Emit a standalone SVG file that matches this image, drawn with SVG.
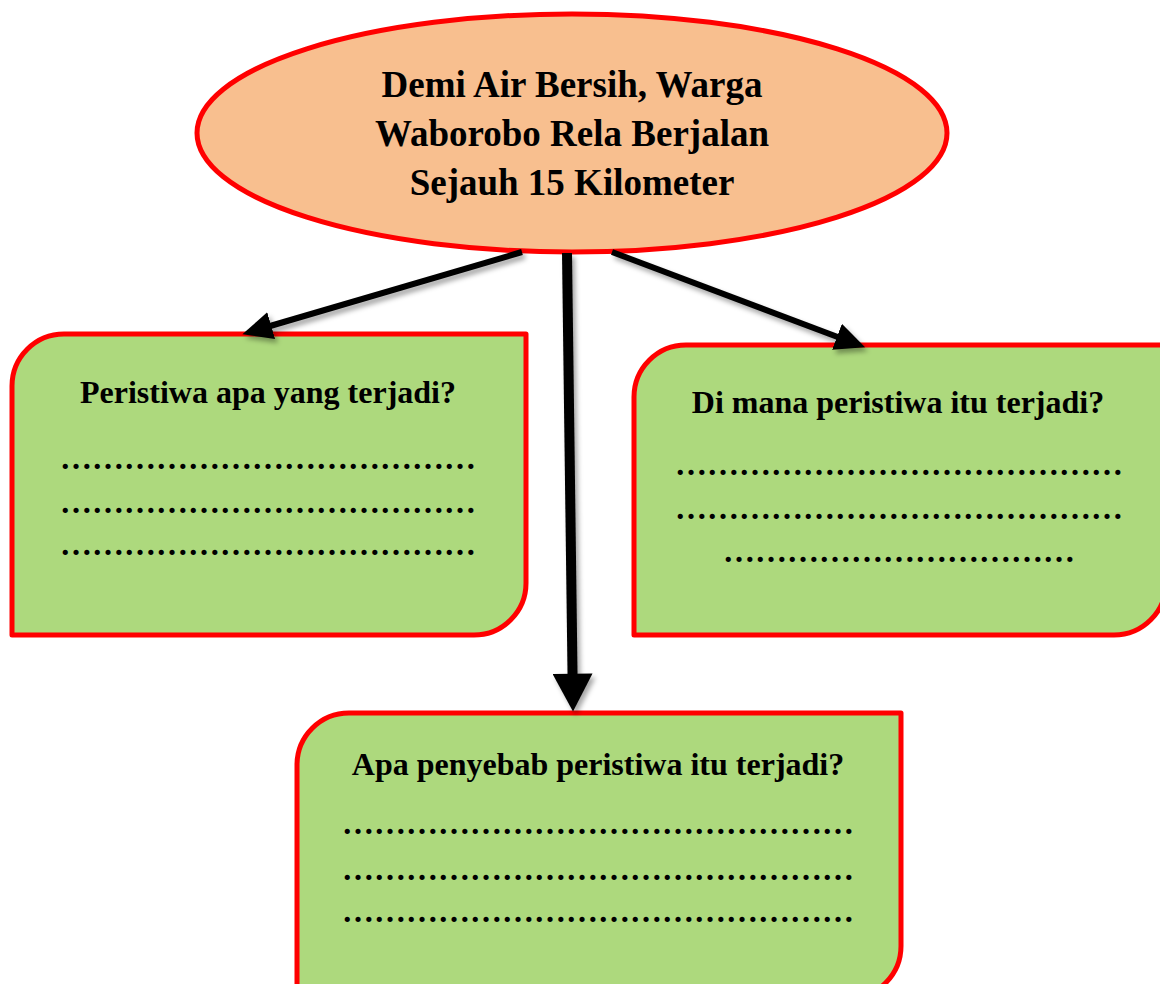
<svg xmlns="http://www.w3.org/2000/svg" width="1160" height="984" viewBox="0 0 1160 984">
<defs>
<style>
.t{font-family:"Liberation Serif","Times New Roman",serif;font-weight:bold;fill:#000;text-anchor:middle}
.head{font-size:37px}
.q{font-size:32px}
.box{fill:#ADD97D;stroke:#FF0000;stroke-width:5;stroke-linejoin:round}
.conn{stroke:#000;fill:none}
</style>
<filter id="sh" x="-20%" y="-20%" width="140%" height="140%">
<feDropShadow dx="3" dy="4" stdDeviation="2.5" flood-color="#000" flood-opacity="0.35"/>
</filter>
<marker id="ah" markerUnits="userSpaceOnUse" markerWidth="30" markerHeight="30" viewBox="0 0 28 26" refX="6" refY="13" orient="auto">
<path d="M0,0 L28,13 L0,26 Z" fill="#000"/>
</marker>
<marker id="ahBig" markerUnits="userSpaceOnUse" markerWidth="40" markerHeight="40" viewBox="0 0 36 38" refX="6" refY="19" orient="auto">
<path d="M0,0 L36,19 L0,38 Z" fill="#000"/>
</marker>
</defs>
<rect width="1160" height="984" fill="#fff"/>

<g id="node-main">
<ellipse cx="572" cy="133" rx="375" ry="119" fill="#F8BF8F" stroke="#FF0000" stroke-width="5"/>
<text class="t head" x="572" y="97">Demi Air Bersih, Warga</text>
<text class="t head" x="572" y="146">Waborobo Rela Berjalan</text>
<text class="t head" x="572" y="195">Sejauh 15 Kilometer</text>
</g>

<g id="node-apa">
<path class="box" d="M12,386 A52,52 0 0 1 64,334 L526,334 L526,583 A52,52 0 0 1 474,635 L12,635 Z"/>
<text class="t q" x="268" y="403">Peristiwa apa yang terjadi?</text>
<text class="t q" x="268" y="469">&#8230;&#8230;&#8230;&#8230;&#8230;&#8230;&#8230;&#8230;&#8230;&#8230;&#8230;&#8230;&#8230;</text>
<text class="t q" x="268" y="513">&#8230;&#8230;&#8230;&#8230;&#8230;&#8230;&#8230;&#8230;&#8230;&#8230;&#8230;&#8230;&#8230;</text>
<text class="t q" x="268" y="555">&#8230;&#8230;&#8230;&#8230;&#8230;&#8230;&#8230;&#8230;&#8230;&#8230;&#8230;&#8230;&#8230;</text>
</g>

<g id="node-dimana">
<path class="box" d="M634,397 A52,52 0 0 1 686,345 L1166,345 L1166,583 A52,52 0 0 1 1114,635 L634,635 Z"/>
<text class="t q" x="898" y="413">Di mana peristiwa itu terjadi?</text>
<text class="t q" x="899" y="475">&#8230;&#8230;&#8230;&#8230;&#8230;&#8230;&#8230;&#8230;&#8230;&#8230;&#8230;&#8230;&#8230;&#8230;</text>
<text class="t q" x="899" y="519">&#8230;&#8230;&#8230;&#8230;&#8230;&#8230;&#8230;&#8230;&#8230;&#8230;&#8230;&#8230;&#8230;&#8230;</text>
<text class="t q" x="899" y="562">&#8230;&#8230;&#8230;&#8230;&#8230;&#8230;&#8230;&#8230;&#8230;&#8230;&#8230;</text>
</g>

<g id="node-penyebab">
<path class="box" d="M297,765 A52,52 0 0 1 349,713 L901,713 L901,946 A52,52 0 0 1 849,998 L297,998 Z"/>
<text class="t q" x="598" y="775">Apa penyebab peristiwa itu terjadi?</text>
<text class="t q" x="598" y="834">&#8230;&#8230;&#8230;&#8230;&#8230;&#8230;&#8230;&#8230;&#8230;&#8230;&#8230;&#8230;&#8230;&#8230;&#8230;&#8230;</text>
<text class="t q" x="598" y="880">&#8230;&#8230;&#8230;&#8230;&#8230;&#8230;&#8230;&#8230;&#8230;&#8230;&#8230;&#8230;&#8230;&#8230;&#8230;&#8230;</text>
<text class="t q" x="598" y="922">&#8230;&#8230;&#8230;&#8230;&#8230;&#8230;&#8230;&#8230;&#8230;&#8230;&#8230;&#8230;&#8230;&#8230;&#8230;&#8230;</text>
</g>

<g id="connectors" filter="url(#sh)">
<line class="conn" x1="522" y1="252" x2="265" y2="327.5" stroke-width="6" marker-end="url(#ah)"/>
<line class="conn" x1="612" y1="252" x2="843" y2="339" stroke-width="6" marker-end="url(#ah)"/>
<line class="conn" x1="567" y1="253" x2="572.6" y2="680" stroke-width="10" marker-end="url(#ahBig)"/>
</g>
</svg>
